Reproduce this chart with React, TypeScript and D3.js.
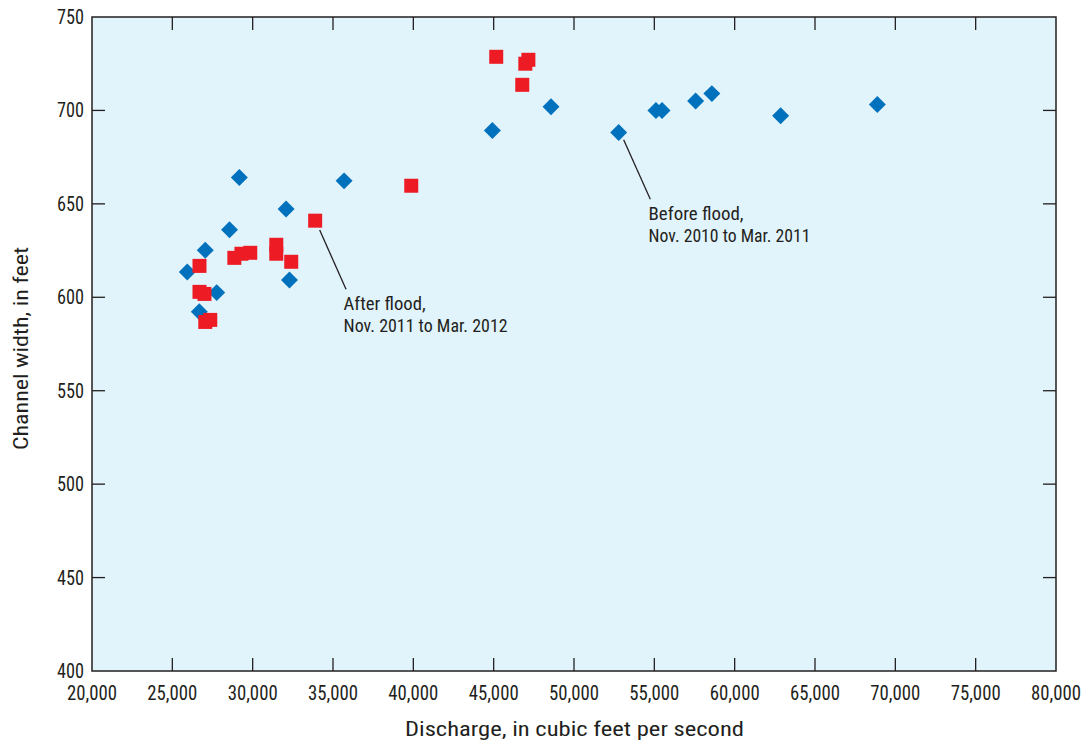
import React from "react";
import * as d3 from "d3";

// Discharge (ft³/s) and channel width (ft), before the flood
const beforeDischarge = [25930, 26680, 27050, 27760, 28560, 29170, 32080, 32290, 35690, 44920, 48570, 52780, 55100, 55480, 57570, 58580, 62860, 68880];
const beforeWidth = [613.5, 592.3, 625.2, 602.5, 636.2, 664.1, 647.3, 609.2, 662.3, 689.2, 702.0, 688.2, 700.0, 700.0, 705.0, 709.0, 697.2, 703.2];

// Discharge (ft³/s) and channel width (ft), after the flood
const afterDischarge = [26690, 26690, 27000, 27050, 27360, 28860, 29300, 29850, 31470, 31470, 32400, 33890, 39870, 45160, 46780, 46970, 47160];
const afterWidth = [616.8, 602.9, 601.8, 586.8, 587.9, 621.1, 623.3, 623.8, 628.1, 623.3, 619.0, 641.0, 659.7, 728.7, 713.7, 725.0, 727.1];

const xTicks = [20000, 25000, 30000, 35000, 40000, 45000, 50000, 55000, 60000, 65000, 70000, 75000, 80000];
const yTicks = [400, 450, 500, 550, 600, 650, 700, 750];

// Callout labels: leader line from (x1,y1) to (x2,y2), text at (tx,ty), all in data units
const callouts = [
  { lines: ["After flood,", "Nov. 2011 to Mar. 2012"], widths: [82, 164], x1: 34170, y1: 636, x2: 35810, y2: 604.3, tx: 35660, ty: 593.2 },
  { lines: ["Before flood,", "Nov. 2010 to Mar. 2011"], widths: [95, 162], x1: 53090, y1: 684.3, x2: 54750, y2: 652.5, tx: 54640, ty: 641.4 },
];

const W = 1084;
const H = 743;
const M = { left: 92, right: 28, top: 17, bottom: 72 };
const FONT = "'Liberation Sans Narrow', 'Roboto Condensed', 'DejaVu Sans Condensed', 'Liberation Sans', sans-serif";
const INK = "#231f20";
const TICK = 13;

export default function App() {
  const x = d3.scaleLinear().domain([20000, 80000]).range([M.left, W - M.right]);
  const y = d3.scaleLinear().domain([400, 750]).range([H - M.bottom, M.top]);
  const fmt = d3.format(",");
  const x0 = x.range()[0], x1 = x.range()[1];
  const y0 = y.range()[0], y1 = y.range()[1];
  const diamond = d3.symbol().type(d3.symbolSquare).size(144)();
  const square = d3.symbol().type(d3.symbolSquare).size(196)();

  return (
    <svg width={W} height={H} style={{ position: "absolute", left: 0, top: 0, fontFamily: FONT }}>
      <rect x={x0} y={y1} width={x1 - x0} height={y0 - y1} fill="#e1f3fb" />

      {/* tick marks on all four sides, pointing inward */}
      {xTicks.slice(1, -1).map((t) => (
        <g key={"xt" + t} stroke={INK} strokeWidth={1.3}>
          <line x1={x(t)} x2={x(t)} y1={y0} y2={y0 - TICK} />
          <line x1={x(t)} x2={x(t)} y1={y1} y2={y1 + TICK} />
        </g>
      ))}
      {yTicks.slice(1, -1).map((t) => (
        <g key={"yt" + t} stroke={INK} strokeWidth={1.3}>
          <line x1={x0} x2={x0 + TICK} y1={y(t)} y2={y(t)} />
          <line x1={x1} x2={x1 - TICK} y1={y(t)} y2={y(t)} />
        </g>
      ))}

      {/* tick labels */}
      {xTicks.map((t) => (
        <text key={"xl" + t} x={x(t)} y={y0 + 29} textAnchor="middle" fontSize={19.5} fill={INK}
          textLength={50} lengthAdjust="spacingAndGlyphs">
          {fmt(t)}
        </text>
      ))}
      {yTicks.map((t) => (
        <text key={"yl" + t} x={x0 - 8} y={y(t) + 7} textAnchor="end" fontSize={19.5} fill={INK}
          textLength={27} lengthAdjust="spacingAndGlyphs">
          {t}
        </text>
      ))}

      {/* axis titles */}
      <text x={405} y={H - 7} fontSize={20} fill={INK} textLength={339} lengthAdjust="spacingAndGlyphs">
        Discharge, in cubic feet per second
      </text>
      <text transform={`translate(28, 450) rotate(-90)`} fontSize={20} fill={INK} textLength={203} lengthAdjust="spacingAndGlyphs">
        Channel width, in feet
      </text>

      {/* leader lines and callout text */}
      {callouts.map((c, i) => (
        <g key={"c" + i}>
          <line x1={x(c.x1)} y1={y(c.y1)} x2={x(c.x2)} y2={y(c.y2)} stroke={INK} strokeWidth={1.3} />
          {c.lines.map((s, j) => (
            <text key={j} x={x(c.tx)} y={y(c.ty) + j * 22} fontSize={18} fill={INK}
              textLength={c.widths[j]} lengthAdjust="spacingAndGlyphs">
              {s}
            </text>
          ))}
        </g>
      ))}

      {/* before flood: blue diamonds */}
      {beforeDischarge.map((d, i) => (
        <path key={"b" + i} d={diamond} transform={`translate(${x(d)},${y(beforeWidth[i])}) rotate(45)`} fill="#0071bc" />
      ))}

      {/* after flood: red squares */}
      {afterDischarge.map((d, i) => (
        <path key={"a" + i} d={square} transform={`translate(${x(d)},${y(afterWidth[i])})`} fill="#ed1c24" />
      ))}

      <rect x={x0} y={y1} width={x1 - x0} height={y0 - y1} fill="none" stroke={INK} strokeWidth={1.5} />
    </svg>
  );
}
